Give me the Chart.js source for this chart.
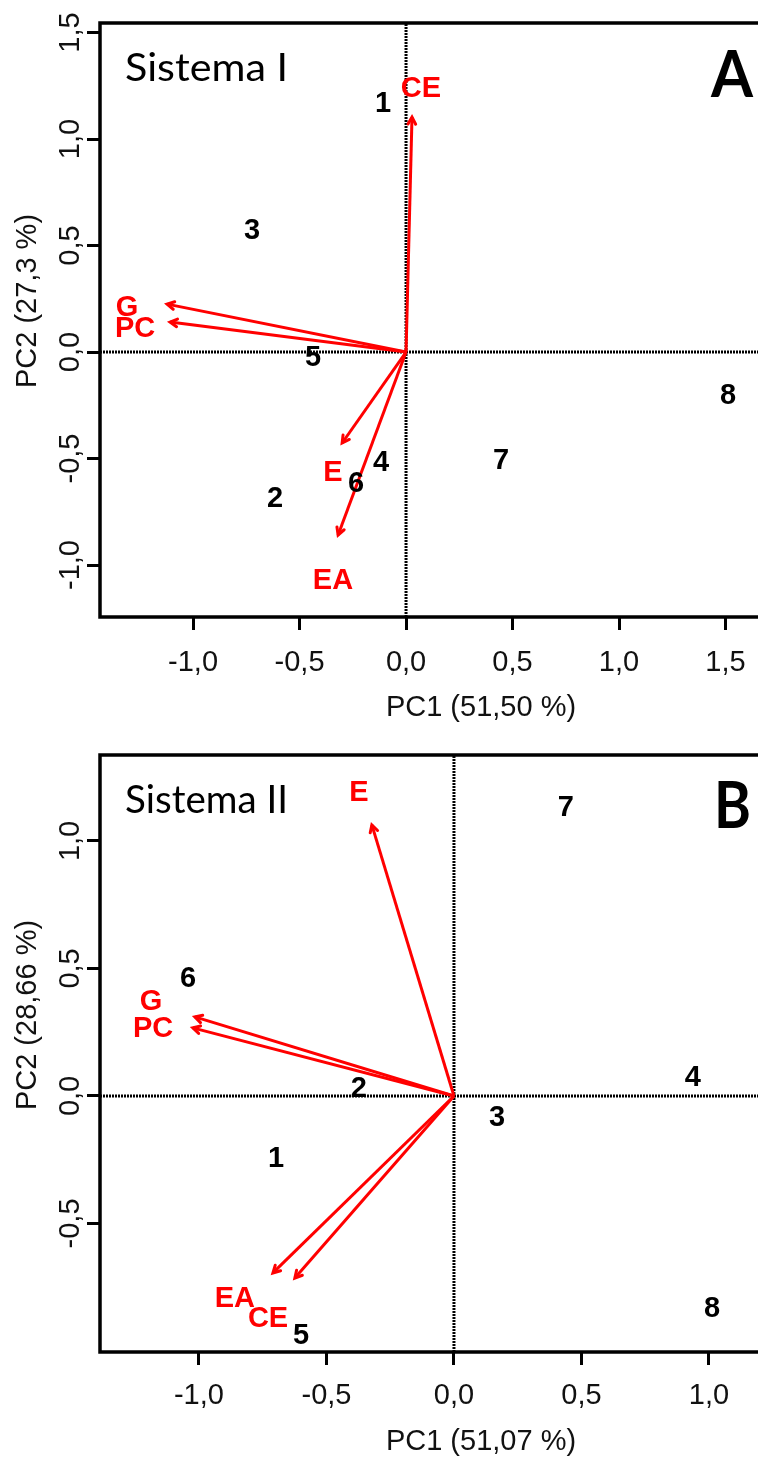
<!DOCTYPE html>
<html>
<head>
<meta charset="utf-8">
<script src="https://cdn.jsdelivr.net/npm/chart.js@4.4.1/dist/chart.umd.min.js"></script>
<style>
  html, body { margin: 0; padding: 0; overflow: hidden; background: #fff; }
  .panel { position: absolute; left: 0; width: 900px; }
</style>
</head>
<body>
<div class="panel" style="top:0;height:730px"><canvas id="chartA"></canvas></div>
<div class="panel" style="top:730px;height:729px"><canvas id="chartB"></canvas></div>
<script>
// ---- Sistema I (panel A) ----
const obsLabelsA = ['1', '2', '3', '4', '5', '6', '7', '8'];
const obsXA = [-0.108, -0.615, -0.723, -0.117, -0.437, -0.235, 0.446, 1.512];
const obsYA = [1.169, -0.685, 0.573, -0.516, -0.023, -0.615, -0.507, -0.202];
const varLabelsA = ['CE', 'G', 'PC', 'E', 'EA'];
const varXA = [0.028, -1.122, -1.108, -0.300, -0.319];
const varYA = [1.103, 0.225, 0.141, -0.427, -0.859];
const varTextXA = [0.070, -1.310, -1.272, -0.343, -0.343];
const varTextYA = [1.239, 0.211, 0.113, -0.563, -1.070];
const xTicksA = [-1.0, -0.5, 0.0, 0.5, 1.0, 1.5];
const yTicksA = [-1.0, -0.5, 0.0, 0.5, 1.0, 1.5];
const xRangeA = [-1.437, 2.141];
const yRangeA = [-1.244, 1.545];

// ---- Sistema II (panel B) ----
const obsLabelsB = ['1', '2', '3', '4', '5', '6', '7', '8'];
const obsXB = [-0.698, -0.373, 0.169, 0.937, -0.600, -1.043, 0.439, 1.012];
const obsYB = [-0.243, 0.031, -0.082, 0.075, -0.937, 0.463, 1.133, -0.831];
const varLabelsB = ['E', 'G', 'PC', 'EA', 'CE'];
const varXB = [-0.322, -1.016, -1.024, -0.710, -0.624];
const varYB = [1.063, 0.310, 0.267, -0.694, -0.714];
const varTextXB = [-0.373, -1.188, -1.180, -0.859, -0.729];
const varTextYB = [1.192, 0.373, 0.267, -0.792, -0.871];
const xTicksB = [-1.0, -0.5, 0.0, 0.5, 1.0];
const yTicksB = [-0.5, 0.0, 0.5, 1.0];
const xRangeB = [-1.388, 1.600];
const yRangeB = [-1.004, 1.337];

const RED = '#ff0000';
const fmt = v => v.toFixed(1).replace('.', ',');

// draws arrow heads, text marks, frame and axis text
const biplotDecor = {
  id: 'biplotDecor',
  afterDatasetsDraw(chart) {
    const ctx = chart.ctx;
    chart.data.datasets.forEach((ds, i) => {
      const pts = chart.getDatasetMeta(i).data;
      if (ds.kind === 'arrow') {
        const p0 = pts[0], p1 = pts[1];
        const ang = Math.atan2(p1.y - p0.y, p1.x - p0.x);
        const L = 8, a = 0.5;
        ctx.save();
        ctx.strokeStyle = RED;
        ctx.lineWidth = 3;
        ctx.lineCap = 'round';
        ctx.beginPath();
        ctx.moveTo(p1.x - L * Math.cos(ang - a), p1.y - L * Math.sin(ang - a));
        ctx.lineTo(p1.x, p1.y);
        ctx.lineTo(p1.x - L * Math.cos(ang + a), p1.y - L * Math.sin(ang + a));
        ctx.stroke();
        ctx.restore();
      }
      if (ds.kind === 'text') {
        ctx.save();
        ctx.fillStyle = ds.textColor;
        ctx.font = 'bold 29px "Liberation Sans", Arial, sans-serif';
        ctx.textAlign = 'center';
        ctx.textBaseline = 'middle';
        pts.forEach((p, j) => ctx.fillText(ds.texts[j], p.x, p.y + 1));
        ctx.restore();
      }
    });
  },
  afterDraw(chart) {
    const ctx = chart.ctx;
    const o = chart.options.plugins.biplotDecor;
    const area = chart.chartArea;
    const xs = chart.scales.x, ys = chart.scales.y;
    ctx.save();
    // frame
    ctx.strokeStyle = '#000';
    ctx.lineWidth = 3.5;
    ctx.strokeRect(area.left, area.top, area.right - area.left, area.bottom - area.top);
    // tick labels
    ctx.fillStyle = '#111';
    ctx.font = '29px "Liberation Sans", Arial, sans-serif';
    ctx.textAlign = 'center';
    ctx.textBaseline = 'middle';
    o.xTicks.forEach(v => ctx.fillText(fmt(v), xs.getPixelForValue(v), o.xTickY));
    o.yTicks.forEach(v => {
      ctx.save();
      ctx.translate(o.yTickX, ys.getPixelForValue(v));
      ctx.rotate(-Math.PI / 2);
      ctx.fillText(fmt(v), 0, 0);
      ctx.restore();
    });
    // axis titles
    ctx.fillText(o.xTitle, (area.left + area.right) / 2, o.xTitleY);
    ctx.save();
    ctx.translate(o.yTitleX, o.yTitleY);
    ctx.rotate(-Math.PI / 2);
    ctx.fillText(o.yTitle, 0, 0);
    ctx.restore();
    // panel name and letter
    ctx.fillStyle = '#000';
    ctx.textAlign = 'left';
    ctx.textBaseline = 'alphabetic';
    ctx.font = '39px Lato, "Open Sans", sans-serif';
    let w = ctx.measureText(o.name).width;
    ctx.save();
    ctx.translate(o.nameX, o.nameY);
    ctx.scale(o.nameW / w, 1);
    ctx.fillText(o.name, 0, 0);
    ctx.restore();
    ctx.font = 'bold 65px Lato, "Liberation Sans", sans-serif';
    w = ctx.measureText(o.letter).width;
    ctx.save();
    ctx.translate(o.letterX, o.letterY);
    ctx.scale(o.letterW / w, 1);
    ctx.fillText(o.letter, 0, 0);
    ctx.restore();
    ctx.restore();
  }
};

function makeBiplot(id, d) {
  const datasets = [];
  // zero reference lines
  datasets.push({
    data: [{ x: d.xRange[0], y: 0 }, { x: d.xRange[1], y: 0 }],
    showLine: true, borderColor: '#000', borderWidth: 3, borderDash: [2, 1],
    pointRadius: 0, order: 3
  });
  datasets.push({
    data: [{ x: 0, y: d.yRange[0] }, { x: 0, y: d.yRange[1] }],
    showLine: true, borderColor: '#000', borderWidth: 3, borderDash: [2, 1],
    pointRadius: 0, order: 3
  });
  // variable arrows
  d.varLabels.forEach((lab, i) => {
    datasets.push({
      kind: 'arrow', label: lab,
      data: [{ x: 0, y: 0 }, { x: d.varX[i], y: d.varY[i] }],
      showLine: true, borderColor: RED, borderWidth: 3, pointRadius: 0, order: 2
    });
  });
  // observation numbers
  datasets.push({
    kind: 'text', texts: d.obsLabels, textColor: '#000',
    data: d.obsX.map((x, i) => ({ x: x, y: d.obsY[i] })),
    pointRadius: 0, order: 1
  });
  // variable names
  datasets.push({
    kind: 'text', texts: d.varLabels, textColor: RED,
    data: d.varTextX.map((x, i) => ({ x: x, y: d.varTextY[i] })),
    pointRadius: 0, order: 1
  });

  const tickGrid = { drawOnChartArea: false, drawTicks: true, tickLength: 13, lineWidth: 3, color: '#000' };
  return new Chart(document.getElementById(id), {
    type: 'scatter',
    data: { datasets: datasets },
    options: {
      responsive: true,
      maintainAspectRatio: false,
      devicePixelRatio: 1,
      animation: false,
      events: [],
      layout: { padding: { top: d.padTop, right: 38, left: 0, bottom: 0 } },
      scales: {
        x: {
          type: 'linear', min: d.xRange[0], max: d.xRange[1],
          afterBuildTicks: s => { s.ticks = d.xTicks.map(v => ({ value: v })); },
          afterFit: s => { s.height = d.xAxisH; },
          ticks: { display: false },
          grid: tickGrid,
          border: { display: false }
        },
        y: {
          type: 'linear', min: d.yRange[0], max: d.yRange[1],
          afterBuildTicks: s => { s.ticks = d.yTicks.map(v => ({ value: v })); },
          afterFit: s => { s.width = 100; },
          ticks: { display: false },
          grid: tickGrid,
          border: { display: false }
        }
      },
      plugins: {
        legend: { display: false },
        tooltip: { enabled: false },
        biplotDecor: {
          xTicks: d.xTicks, yTicks: d.yTicks,
          xTickY: d.xTickY, yTickX: 71,
          xTitle: d.xTitle, xTitleY: d.xTitleY,
          yTitle: d.yTitle, yTitleX: 28, yTitleY: d.yTitleY,
          name: d.name, nameX: 125, nameY: d.nameY, nameW: 163,
          letter: d.letter, letterX: d.letterX, letterY: d.letterY, letterW: d.letterW
        }
      }
    },
    plugins: [biplotDecor]
  });
}

makeBiplot('chartA', {
  obsLabels: obsLabelsA, obsX: obsXA, obsY: obsYA,
  varLabels: varLabelsA, varX: varXA, varY: varYA, varTextX: varTextXA, varTextY: varTextYA,
  xTicks: xTicksA, yTicks: yTicksA, xRange: xRangeA, yRange: yRangeA,
  padTop: 23, xAxisH: 113, xTickY: 663, xTitleY: 708, yTitleY: 301,
  xTitle: 'PC1 (51,50 %)', yTitle: 'PC2 (27,3 %)',
  name: 'Sistema I', nameY: 81,
  letter: 'A', letterX: 711, letterY: 97, letterW: 42
});

makeBiplot('chartB', {
  obsLabels: obsLabelsB, obsX: obsXB, obsY: obsYB,
  varLabels: varLabelsB, varX: varXB, varY: varYB, varTextX: varTextXB, varTextY: varTextYB,
  xTicks: xTicksB, yTicks: yTicksB, xRange: xRangeB, yRange: yRangeB,
  padTop: 25, xAxisH: 107, xTickY: 666, xTitleY: 712, yTitleY: 285,
  xTitle: 'PC1 (51,07 %)', yTitle: 'PC2 (28,66 %)',
  name: 'Sistema II', nameY: 83,
  letter: 'B', letterX: 714, letterY: 98, letterW: 37
});
</script>
</body>
</html>
